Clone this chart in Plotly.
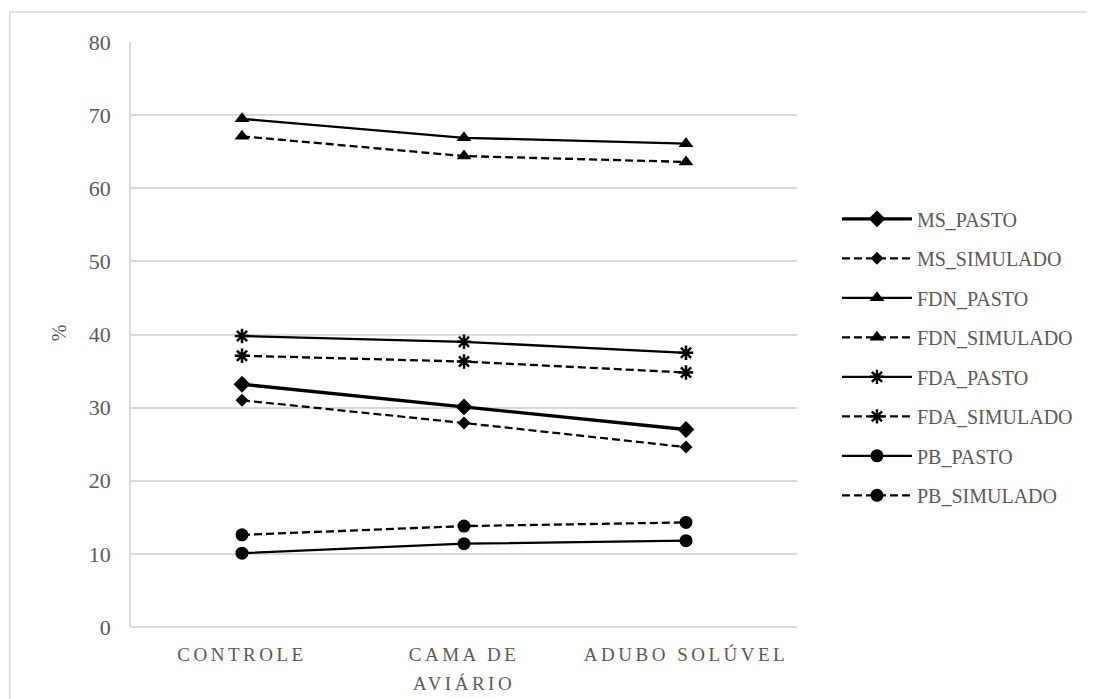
import plotly.graph_objects as go

categories = ["CONTROLE", "CAMA DE<br>AVIÁRIO", "ADUBO SOLÚVEL"]

ms_pasto = [33.2, 30.1, 27.0]
ms_simulado = [31.0, 27.9, 24.6]
fdn_pasto = [69.5, 66.9, 66.1]
fdn_simulado = [67.1, 64.4, 63.6]
fda_pasto = [39.8, 39.0, 37.5]
fda_simulado = [37.1, 36.3, 34.8]
pb_pasto = [10.1, 11.4, 11.8]
pb_simulado = [12.6, 13.8, 14.3]

FONT = "Liberation Serif"
GRAY = "#595959"
DASH = "8px,4px"

series = [
    ("MS_PASTO", ms_pasto, "solid", "diamond", 3.4, 13),
    ("MS_SIMULADO", ms_simulado, DASH, "diamond", 2.2, 10),
    ("FDN_PASTO", fdn_pasto, "solid", "triangle-up", 2.3, 13),
    ("FDN_SIMULADO", fdn_simulado, DASH, "triangle-up", 2.3, 13),
    ("FDA_PASTO", fda_pasto, "solid", "asterisk-open", 2.3, 12),
    ("FDA_SIMULADO", fda_simulado, DASH, "asterisk-open", 2.3, 12),
    ("PB_PASTO", pb_pasto, "solid", "circle", 2.3, 13),
    ("PB_SIMULADO", pb_simulado, DASH, "circle", 2.3, 13),
]

fig = go.Figure()
for i, (name, vals, dash, sym, lw, ms) in enumerate(series):
    marker = dict(symbol=sym, size=ms, color="black")
    if sym == "asterisk-open":
        marker["line"] = dict(color="black", width=2.5)
    fig.add_trace(go.Scatter(
        x=categories, y=vals, name=name, mode="lines+markers",
        line=dict(color="black", width=lw, dash=dash),
        marker=marker, legendgroup=f"g{i}",
    ))

fig.update_layout(
    width=1087, height=691,
    margin=dict(l=123, r=298, t=34, b=72),
    paper_bgcolor="white", plot_bgcolor="white",
    font=dict(family=FONT, color=GRAY),
    showlegend=True,
    legend=dict(
        x=1.06, y=0.731, xanchor="left", yanchor="top",
        font=dict(family=FONT, size=20, color=GRAY),
        itemwidth=70, tracegroupgap=10.5,
        bgcolor="rgba(0,0,0,0)",
    ),
    xaxis=dict(
        type="category", range=[-0.5, 2.5], automargin=False,
        showgrid=False, showline=False, zeroline=False,
        tickfont=dict(family=FONT, size=19, color=GRAY), ticks="",
        ticklabelstandoff=14,
    ),
    yaxis=dict(
        range=[0, 80], dtick=10, automargin=False,
        showgrid=True, gridcolor="#d9d9d9", gridwidth=1.5,
        zeroline=True, zerolinecolor="#d9d9d9", zerolinewidth=1.5,
        showline=True, linecolor="#d9d9d9", linewidth=1.5,
        tickfont=dict(family=FONT, size=22, color=GRAY), ticks="",
        ticklabelstandoff=14,
    ),
    annotations=[dict(
        text="%", xref="paper", yref="paper", x=-0.109, y=0.503,
        xanchor="center", yanchor="middle",
        showarrow=False, textangle=-90,
        font=dict(family=FONT, size=20, color=GRAY),
    )],
    shapes=[dict(
        type="rect", xref="paper", yref="paper",
        x0=-0.182, x1=1.47, y0=-0.2, y1=1.0513,
        line=dict(color="#d9d9d9", width=1.5), fillcolor="rgba(0,0,0,0)", layer="below",
    )],
)

post = """
document.querySelectorAll('.xtick text').forEach(function(t){
  t.style.letterSpacing='3.5px';
});
document.querySelectorAll('.xtick text tspan').forEach(function(t){
  t.setAttribute('dy', parseFloat(t.getAttribute('dy')||0) ? '1.5em' : t.getAttribute('dy'));
});
"""

fig.write_html("out.html", post_script=post)
